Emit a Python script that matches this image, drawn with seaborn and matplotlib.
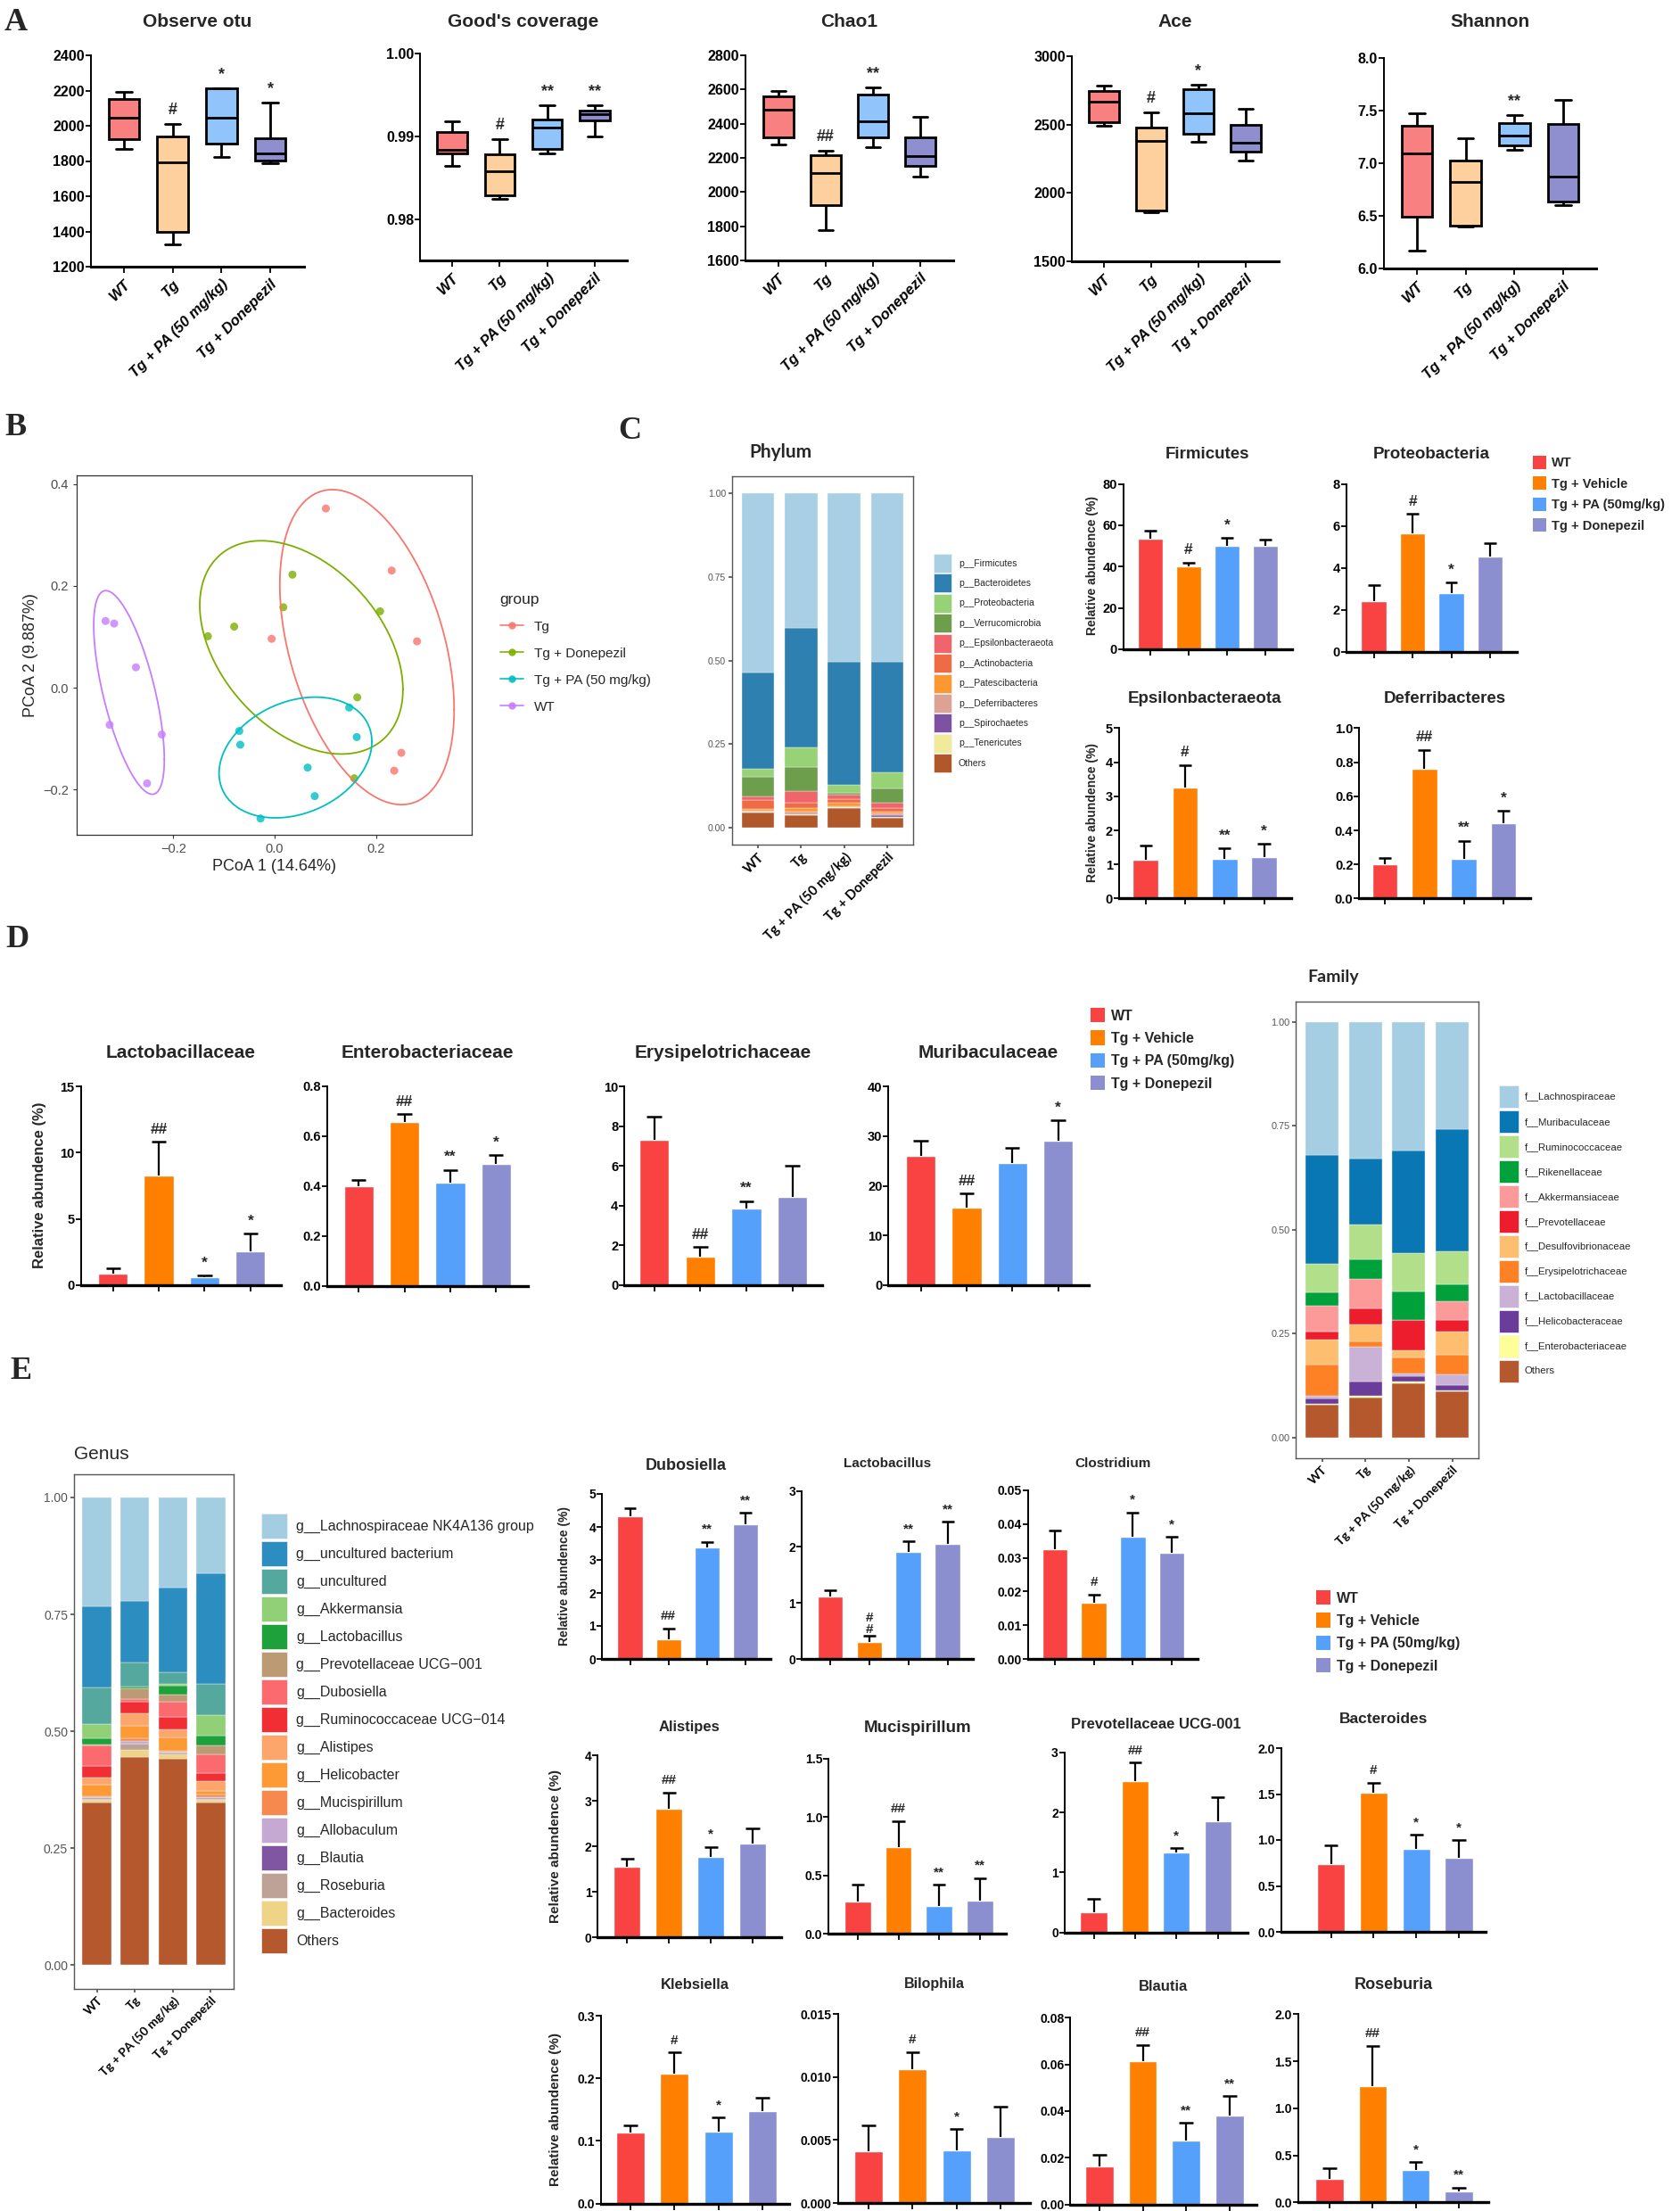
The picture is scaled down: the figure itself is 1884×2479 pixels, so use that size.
import numpy as np
import pandas as pd
import matplotlib
matplotlib.use("Agg")
import matplotlib.pyplot as plt
from matplotlib.lines import Line2D
from matplotlib.patches import Patch
import seaborn as sns

W, H = 1884, 2479

box_groups = ["WT", "Tg", "Tg + PA (50 mg/kg)", "Tg + Donepezil"]
bar_groups = ["WT", "Tg + Vehicle", "Tg + PA (50mg/kg)", "Tg + Donepezil"]
stack_groups = ["WT", "Tg", "Tg + PA (50 mg/kg)", "Tg + Donepezil"]

box_colors = ["#F98080", "#FDD09E", "#90C4FA", "#8F8FD0"]
bar_colors = ["#F94343", "#FF8000", "#55A0FA", "#8B8FD0"]

# ---- A: alpha diversity (min, q1, median, q3, max) ----
observe_otu = [[1870, 1923, 2047, 2153, 2191], [1326, 1397, 1792, 1938, 2009],
               [1821, 1899, 2047, 2213, 2213], [1787, 1803, 1843, 1931, 2133]]
observe_otu_sig = ["", "#", "*", "*"]
goods_coverage = [[0.98646, 0.98797, 0.98833, 0.99048, 0.9918], [0.9824, 0.98287, 0.98581, 0.98779, 0.98966],
                  [0.9879, 0.9885, 0.9911, 0.99199, 0.99372], [0.98995, 0.99192, 0.9927, 0.9931, 0.99372]]
goods_coverage_sig = ["", "#", "**", "**"]
chao1 = [[2280, 2322, 2480, 2558, 2590], [1776, 1925, 2110, 2216, 2242],
         [2264, 2318, 2416, 2570, 2611], [2092, 2153, 2210, 2320, 2440]]
chao1_sig = ["", "##", "**", ""]
ace = [[2493, 2515, 2665, 2744, 2787], [1859, 1870, 2383, 2480, 2589],
       [2372, 2433, 2585, 2759, 2791], [2235, 2302, 2368, 2498, 2613]]
ace_sig = ["", "#", "*", ""]
shannon = [[6.172, 6.494, 7.093, 7.353, 7.472], [6.40, 6.404, 6.822, 7.028, 7.237],
           [7.127, 7.172, 7.265, 7.379, 7.455], [6.602, 6.635, 6.875, 7.373, 7.599]]
shannon_sig = ["", "", "**", ""]

# ---- B: PCoA ----
pcoa_groups = ["Tg", "Tg + Donepezil", "Tg + PA (50 mg/kg)", "WT"]
pcoa_colors = ["#F8766D", "#7CAE00", "#00BFC4", "#C77CFF"]
pcoa_tg_x = [0.101, 0.231, -0.006, 0.281, 0.250, 0.236]
pcoa_tg_y = [0.352, 0.230, 0.096, 0.091, -0.128, -0.163]
pcoa_don_x = [0.035, 0.017, -0.080, -0.132, 0.208, 0.163, 0.157]
pcoa_don_y = [0.222, 0.158, 0.120, 0.101, 0.150, -0.019, -0.178]
pcoa_pa_x = [0.147, 0.162, -0.070, -0.068, 0.065, 0.079, -0.028]
pcoa_pa_y = [-0.039, -0.097, -0.085, -0.112, -0.157, -0.213, -0.257]
pcoa_wt_x = [-0.334, -0.317, -0.274, -0.326, -0.223, -0.252]
pcoa_wt_y = [0.131, 0.126, 0.040, -0.073, -0.092, -0.188]

# ---- C: phylum composition (legend order, per group) ----
phylum_taxa = ["p__Firmicutes", "p__Bacteroidetes", "p__Proteobacteria", "p__Verrucomicrobia",
               "p__Epsilonbacteraeota", "p__Actinobacteria", "p__Patescibacteria", "p__Deferribacteres",
               "p__Spirochaetes", "p__Tenericutes", "Others"]
phylum_colors = ["#A8CFE3", "#2E80B0", "#98D277", "#6C9E4C", "#F0646C", "#EF6B45", "#FD972F",
                 "#DCA294", "#7D52A3", "#F1EA9B", "#B0582A"]
phylum_wt = [0.535, 0.288, 0.024, 0.060, 0.010, 0.027, 0.005, 0.002, 0.001, 0.002, 0.046]
phylum_tg = [0.403, 0.357, 0.058, 0.073, 0.033, 0.017, 0.010, 0.008, 0.001, 0.001, 0.039]
phylum_pa = [0.505, 0.367, 0.023, 0.005, 0.014, 0.012, 0.010, 0.002, 0.001, 0.002, 0.059]
phylum_don = [0.505, 0.330, 0.046, 0.043, 0.016, 0.012, 0.006, 0.004, 0.006, 0.002, 0.030]

firmicutes_mean = [53.3, 39.9, 50.2, 50.2]
firmicutes_sem = [4.0, 2.0, 3.7, 3.0]
firmicutes_sig = ["", "#", "*", ""]
proteobacteria_mean = [2.40, 5.66, 2.78, 4.55]
proteobacteria_sem = [0.79, 0.90, 0.53, 0.64]
proteobacteria_sig = ["", "#", "*", ""]
epsilon_mean = [1.14, 3.27, 1.17, 1.21]
epsilon_sem = [0.42, 0.65, 0.30, 0.40]
epsilon_sig = ["", "#", "**", "*"]
deferribacteres_mean = [0.200, 0.761, 0.234, 0.443]
deferribacteres_sem = [0.037, 0.112, 0.106, 0.071]
deferribacteres_sig = ["", "##", "**", "*"]

# ---- D: family ----
lactobacillaceae_mean = [0.83, 8.25, 0.56, 2.56]
lactobacillaceae_sem = [0.43, 2.59, 0.16, 1.31]
lactobacillaceae_sig = ["", "##", "*", "*"]
enterobacteriaceae_mean = [0.400, 0.657, 0.414, 0.490]
enterobacteriaceae_sem = [0.023, 0.031, 0.051, 0.034]
enterobacteriaceae_sig = ["", "##", "**", "*"]
erysipelotrichaceae_mean = [7.33, 1.41, 3.84, 4.45]
erysipelotrichaceae_sem = [1.16, 0.50, 0.39, 1.55]
erysipelotrichaceae_sig = ["", "##", "**", ""]
muribaculaceae_mean = [25.97, 15.53, 24.5, 29.1]
muribaculaceae_sem = [3.1, 2.9, 3.2, 4.1]
muribaculaceae_sig = ["", "##", "", "*"]

family_taxa = ["f__Lachnospiraceae", "f__Muribaculaceae", "f__Ruminococcaceae", "f__Rikenellaceae",
               "f__Akkermansiaceae", "f__Prevotellaceae", "f__Desulfovibrionaceae", "f__Erysipelotrichaceae",
               "f__Lactobacillaceae", "f__Helicobacteraceae", "f__Enterobacteriaceae", "Others"]
family_colors = ["#A6CEE3", "#0A77B5", "#B2DF8A", "#00A13A", "#FB9A99", "#EE1D2E", "#FDBF6F",
                 "#FF8126", "#CAB2D6", "#6A3D9A", "#FFFF99", "#B5582D"]
family_wt = [0.320, 0.262, 0.069, 0.033, 0.061, 0.019, 0.061, 0.074, 0.008, 0.012, 0.003, 0.078]
family_tg = [0.329, 0.158, 0.085, 0.046, 0.072, 0.037, 0.041, 0.014, 0.083, 0.034, 0.004, 0.097]
family_pa = [0.310, 0.247, 0.091, 0.069, 0.001, 0.073, 0.016, 0.039, 0.007, 0.012, 0.004, 0.131]
family_don = [0.259, 0.293, 0.079, 0.042, 0.044, 0.028, 0.057, 0.046, 0.026, 0.012, 0.004, 0.110]

# ---- E: genus ----
genus_taxa = ["g__Lachnospiraceae NK4A136 group", "g__uncultured bacterium", "g__uncultured",
              "g__Akkermansia", "g__Lactobacillus", "g__Prevotellaceae UCG\u2212001", "g__Dubosiella",
              "g__Ruminococcaceae UCG\u2212014", "g__Alistipes", "g__Helicobacter", "g__Mucispirillum",
              "g__Allobaculum", "g__Blautia", "g__Roseburia", "g__Bacteroides", "Others"]
genus_colors = ["#A3CEE2", "#2C8DC0", "#55A89E", "#92D078", "#1EA03A", "#BC9A74", "#FB6A6E", "#F22E35",
                "#FDA66C", "#FD9A35", "#F6894E", "#C5A9D2", "#8055A2", "#BFA296", "#EFD386", "#B5582D"]
genus_wt = [0.232, 0.174, 0.079, 0.030, 0.013, 0.003, 0.043, 0.025, 0.015, 0.025, 0.002, 0.002, 0.001, 0.003, 0.006, 0.347]
genus_tg = [0.221, 0.132, 0.052, 0.000, 0.004, 0.022, 0.005, 0.025, 0.028, 0.027, 0.004, 0.006, 0.001, 0.013, 0.015, 0.445]
genus_pa = [0.192, 0.182, 0.025, 0.003, 0.020, 0.014, 0.034, 0.026, 0.017, 0.028, 0.002, 0.002, 0.001, 0.003, 0.009, 0.442]
genus_don = [0.163, 0.236, 0.067, 0.043, 0.021, 0.019, 0.040, 0.017, 0.022, 0.007, 0.006, 0.002, 0.001, 0.003, 0.006, 0.347]

dubosiella_mean = [4.32, 0.59, 3.37, 4.07]
dubosiella_sem = [0.26, 0.33, 0.18, 0.36]
dubosiella_sig = ["", "##", "**", "**"]
lactobacillus_mean = [1.12, 0.31, 1.91, 2.05]
lactobacillus_sem = [0.11, 0.10, 0.19, 0.40]
lactobacillus_sig = ["", "#\n#", "**", "**"]
clostridium_mean = [0.0325, 0.0166, 0.0362, 0.0316]
clostridium_sem = [0.0057, 0.0024, 0.0073, 0.0046]
clostridium_sig = ["", "#", "*", "*"]
alistipes_mean = [1.55, 2.83, 1.78, 2.07]
alistipes_sem = [0.18, 0.35, 0.21, 0.32]
alistipes_sig = ["", "##", "*", ""]
mucispirillum_mean = [0.275, 0.742, 0.236, 0.282]
mucispirillum_sem = [0.145, 0.219, 0.184, 0.196]
mucispirillum_sig = ["", "##", "**", "**"]
prevotellaceae_mean = [0.342, 2.52, 1.33, 1.85]
prevotellaceae_sem = [0.218, 0.31, 0.08, 0.40]
prevotellaceae_sig = ["", "##", "*", ""]
bacteroides_mean = [0.738, 1.515, 0.903, 0.803]
bacteroides_sem = [0.201, 0.110, 0.155, 0.197]
bacteroides_sig = ["", "#", "*", "*"]
klebsiella_mean = [0.114, 0.208, 0.115, 0.148]
klebsiella_sem = [0.011, 0.033, 0.022, 0.021]
klebsiella_sig = ["", "#", "*", ""]
bilophila_mean = [0.00409, 0.01065, 0.00416, 0.00527]
bilophila_sem = [0.00205, 0.00135, 0.0017, 0.00237]
bilophila_sig = ["", "#", "*", ""]
blautia_mean = [0.0162, 0.0615, 0.0274, 0.0380]
blautia_sem = [0.0052, 0.0069, 0.0076, 0.0085]
blautia_sig = ["", "##", "**", "**"]
roseburia_mean = [0.246, 1.238, 0.348, 0.120]
roseburia_sem = [0.121, 0.421, 0.079, 0.038]
roseburia_sig = ["", "##", "*", "**"]

SANS = ["Liberation Sans", "DejaVu Sans"]
SERIF = ["Liberation Serif", "DejaVu Serif"]
CALI = ["Lato", "DejaVu Sans"]
YLABEL = "Relative abundence (%)"


def px_axes(fig, left, top, right, bottom):
    return fig.add_axes([left / W, 1 - bottom / H, (right - left) / W, (bottom - top) / H])


def px_text(fig, x, y, s, **kw):
    kw.setdefault("ha", "center")
    kw.setdefault("va", "center")
    fig.text(x / W, 1 - y / H, s, **kw)


def fit_xlim(ax, left, right, first, last, n=4):
    step = (last - first) / (n - 1)
    ax.set_xlim((left - first) / step, (right - first) / step)


def prism_style(ax, ylim, yticks, fmt, size, bottom_lw=2.0):
    ax.set_ylim(*ylim)
    ax.set_yticks(yticks)
    ax.set_yticklabels([fmt.format(v) for v in yticks], fontweight="bold", fontsize=size)
    ax.set_xlabel("")
    ax.set_ylabel("")
    for s in ["top", "right"]:
        ax.spines[s].set_visible(False)
    ax.spines["left"].set_linewidth(1.4)
    ax.spines["bottom"].set_linewidth(bottom_lw)
    ax.tick_params(axis="y", length=4, width=1.3, pad=1)
    ax.tick_params(axis="x", length=5, width=1.3)


def box_panel(fig, rect, ticks, title, data, sig, ylim, yticks, fmt):
    left, top, right, bottom = rect
    ax = px_axes(fig, *rect)
    df = pd.DataFrame({"group": np.repeat(box_groups, 5), "value": np.concatenate(data)})
    sns.boxplot(data=df, x="group", y="value", hue="group", palette=box_colors, saturation=1,
                whis=(0, 100), width=0.63, linewidth=2, linecolor="black", legend=False, ax=ax)
    fit_xlim(ax, left, right, *ticks)
    prism_style(ax, ylim, yticks, fmt, 11.5, bottom_lw=2.2)
    ax.set_xticks(range(4))
    ax.set_xticklabels(box_groups, rotation=45, ha="right", rotation_mode="anchor",
                       fontstyle="italic", fontweight="bold", fontsize=12)
    for i, (s, vals) in enumerate(zip(sig, data)):
        if s:
            ax.annotate(s, (i, max(vals)), xytext=(0, 11), textcoords="offset points",
                        ha="center", va="center", fontsize=13, fontweight="bold")
    px_text(fig, (left + right) / 2, 24, title, fontsize=15, fontweight="bold")


def bar_panel(fig, rect, ticks, title, title_y, title_size, mean, sem, sig, ymax, yticks, fmt,
              tick_size=10.5, sig_size=12.5):
    left, top, right, bottom = rect
    ax = px_axes(fig, *rect)
    sns.barplot(x=bar_groups, y=mean, hue=bar_groups, palette=bar_colors, saturation=1,
                width=0.65, legend=False, ax=ax)
    x = np.arange(4)
    m = np.array(mean)
    e = np.array(sem)
    ax.vlines(x, m, m + e, color="black", lw=1.6, zorder=3)
    ax.hlines(m + e, x - 0.16, x + 0.16, color="black", lw=1.8, zorder=3)
    for i, s in enumerate(sig):
        if s:
            ax.annotate(s, (i, m[i] + e[i]), xytext=(0, 10), textcoords="offset points",
                        ha="center", va="center", fontsize=sig_size, fontweight="bold",
                        linespacing=0.9, annotation_clip=False)
    fit_xlim(ax, left, right, *ticks)
    prism_style(ax, (0, ymax), yticks, fmt, tick_size, bottom_lw=2.4)
    ax.set_xticks(range(4))
    ax.set_xticklabels([])
    px_text(fig, (left + right) / 2, title_y, title, fontsize=title_size, fontweight="bold")
    return ax


def bar_legend(fig, x, y, size):
    handles = [Patch(facecolor=c, edgecolor="none") for c in bar_colors]
    fig.legend(handles, bar_groups, loc="upper left", bbox_to_anchor=(x / W, 1 - y / H),
               frameon=False, prop={"weight": "bold", "size": size},
               handlelength=1.0, handleheight=1.2, labelspacing=0.55, handletextpad=0.45,
               borderpad=0, borderaxespad=0)


def stacked_panel(fig, rect, values, taxa, colors, tick_size, ytick_size, leg_xy, leg_size, leg_kw):
    ax = px_axes(fig, *rect)
    table = pd.DataFrame(values, index=stack_groups, columns=taxa)
    bottom = np.zeros(len(stack_groups))
    for taxon, color in list(zip(taxa, colors))[::-1]:
        ax.bar(range(4), table[taxon].to_numpy(), bottom=bottom, width=0.76, color=color,
               edgecolor="#F2F2F2", linewidth=0.3)
        bottom += table[taxon].to_numpy()
    ax.set_xlim(-0.6, 3.6)
    ax.set_ylim(-0.05, 1.05)
    ax.set_yticks([0, 0.25, 0.5, 0.75, 1.0])
    ax.set_yticklabels(["0.00", "0.25", "0.50", "0.75", "1.00"], fontsize=ytick_size, color="#555555")
    ax.set_xticks(range(4))
    ax.set_xticklabels(stack_groups, rotation=45, ha="right", rotation_mode="anchor",
                       fontsize=tick_size, fontweight="bold", family=CALI)
    for s in ax.spines.values():
        s.set_color("#555555")
        s.set_linewidth(1.0)
    ax.tick_params(length=3, color="#555555", pad=2)
    handles = [Patch(facecolor=c, edgecolor="#F2F2F2", linewidth=0.5) for c in colors]
    fig.legend(handles, taxa, loc="upper left", bbox_to_anchor=(leg_xy[0] / W, 1 - leg_xy[1] / H),
               frameon=False, fontsize=leg_size, borderpad=0, borderaxespad=0, **leg_kw)
    return ax


def ellipse(x, y, r=1.55, n=200):
    pts = np.column_stack([x, y])
    center = pts.mean(axis=0)
    chol = np.linalg.cholesky(np.cov(pts.T))
    t = np.linspace(0, 2 * np.pi, n)
    circle = np.column_stack([np.cos(t), np.sin(t)])
    return center + r * circle @ chol.T


def main():
    sns.set_theme(style="ticks")
    plt.rcParams["font.family"] = SANS
    plt.rcParams["axes.edgecolor"] = "black"
    plt.rcParams["xtick.color"] = "black"
    plt.rcParams["ytick.color"] = "black"
    fig = plt.figure(figsize=(W / 100, H / 100), dpi=100)

    # ---------------- A ----------------
    box_panel(fig, (102, 62, 341, 299), (139, 303), "Observe otu", observe_otu, observe_otu_sig,
              (1200, 2400), list(range(1200, 2401, 200)), "{:.0f}")
    box_panel(fig, (471, 60, 703, 292), (507, 667), "Good's coverage", goods_coverage, goods_coverage_sig,
              (0.975, 1.0), [0.98, 0.99, 1.00], "{:.2f}")
    box_panel(fig, (836, 62, 1069, 292), (873, 1032), "Chao1", chao1, chao1_sig,
              (1600, 2800), list(range(1600, 2801, 200)), "{:.0f}")
    box_panel(fig, (1202, 63, 1434, 293), (1238, 1397), "Ace", ace, ace_sig,
              (1500, 3000), [1500, 2000, 2500, 3000], "{:.0f}")
    box_panel(fig, (1552, 65, 1790, 301), (1589, 1753), "Shannon", shannon, shannon_sig,
              (6.0, 8.0), [6.0, 6.5, 7.0, 7.5, 8.0], "{:.1f}")

    # ---------------- B ----------------
    ax = px_axes(fig, 86, 533, 529, 936)
    xs = [pcoa_tg_x, pcoa_don_x, pcoa_pa_x, pcoa_wt_x]
    ys = [pcoa_tg_y, pcoa_don_y, pcoa_pa_y, pcoa_wt_y]
    pcoa = pd.DataFrame({
        "x": np.concatenate(xs), "y": np.concatenate(ys),
        "group": np.concatenate([[g] * len(v) for g, v in zip(pcoa_groups, xs)]),
    })
    sns.scatterplot(data=pcoa, x="x", y="y", hue="group", hue_order=pcoa_groups, palette=pcoa_colors,
                    s=42, alpha=0.8, linewidth=0, legend=False, ax=ax)
    for gx, gy, c in zip(xs, ys, pcoa_colors):
        e = ellipse(gx, gy)
        ax.plot(e[:, 0], e[:, 1], color=c, lw=1.3)
    ax.set_xlim(-0.391, 0.389)
    ax.set_ylim(-0.289, 0.417)
    ax.set_xticks([-0.2, 0.0, 0.2])
    ax.set_xticklabels(["\u22120.2", "0.0", "0.2"])
    ax.set_yticks([-0.2, 0.0, 0.2, 0.4])
    ax.set_yticklabels(["\u22120.2", "0.0", "0.2", "0.4"])
    ax.tick_params(labelsize=10.5, labelcolor="#4D4D4D", color="#333333", length=3, width=0.8)
    for s in ax.spines.values():
        s.set_color("#333333")
        s.set_linewidth(0.9)
    ax.set_xlabel("PCoA 1 (14.64%)", fontsize=13, labelpad=3)
    ax.set_ylabel("PCoA 2 (9.887%)", fontsize=13, labelpad=4)
    handles = [Line2D([0], [0], color=c, lw=1.3, marker="o", markersize=6, markeredgewidth=0, alpha=0.9)
               for c in pcoa_colors]
    ax.legend(handles, pcoa_groups, title="group", loc="upper left",
              bbox_to_anchor=(553 / W, 1 - 657 / H), bbox_transform=fig.transFigure,
              frameon=False, fontsize=11, title_fontsize=12.5, handlelength=1.7,
              labelspacing=1.05, handletextpad=0.8, borderpad=0, alignment="left")

    # ---------------- C ----------------
    stacked_panel(fig, (821, 534, 1024, 947), [phylum_wt, phylum_tg, phylum_pa, phylum_don],
                  phylum_taxa, phylum_colors, 11, 7.5, (1047, 621), 7.5,
                  dict(handlelength=1.92, handleheight=2.72, labelspacing=0.14, handletextpad=0.75))
    px_text(fig, 875, 507, "Phylum", fontsize=15, fontweight="bold", family=CALI)

    bar_panel(fig, (1260, 542.5, 1448.5, 727.9), (1290, 1419), "Firmicutes", 510, 13.5,
              firmicutes_mean, firmicutes_sem, firmicutes_sig, 80, [0, 20, 40, 60, 80], "{:.0f}")
    bar_panel(fig, (1510, 542.5, 1701, 730.7), (1540.6, 1671), "Proteobacteria", 510, 13.5,
              proteobacteria_mean, proteobacteria_sem, proteobacteria_sig, 8, [0, 2, 4, 6, 8], "{:.0f}")
    bar_panel(fig, (1255, 816.4, 1448, 1007.5), (1284.6, 1417.5), "Epsilonbacteraeota", 784, 13.5,
              epsilon_mean, epsilon_sem, epsilon_sig, 5, [0, 1, 2, 3, 4, 5], "{:.0f}")
    bar_panel(fig, (1524.4, 816.4, 1715.7, 1007.5), (1553, 1686), "Deferribacteres", 784, 13.5,
              deferribacteres_mean, deferribacteres_sem, deferribacteres_sig, 1.0,
              [0, 0.2, 0.4, 0.6, 0.8, 1.0], "{:.1f}")
    px_text(fig, 1225, 634, YLABEL, rotation=90, fontsize=10, fontweight="bold")
    px_text(fig, 1225, 911, YLABEL, rotation=90, fontsize=10, fontweight="bold")
    bar_legend(fig, 1719, 511, 10.5)

    # ---------------- D ----------------
    bar_panel(fig, (90.6, 1218.3, 315, 1440.7), (126.8, 280.8), "Lactobacillaceae", 1181, 15,
              lactobacillaceae_mean, lactobacillaceae_sem, lactobacillaceae_sig, 15, [0, 5, 10, 15], "{:.0f}")
    bar_panel(fig, (366.8, 1217.7, 591.5, 1441.7), (402.2, 556.2), "Enterobacteriaceae", 1181, 15,
              enterobacteriaceae_mean, enterobacteriaceae_sem, enterobacteriaceae_sig, 0.8,
              [0, 0.2, 0.4, 0.6, 0.8], "{:.1f}")
    bar_panel(fig, (700.2, 1218.3, 922, 1440.7), (733.7, 888.6), "Erysipelotrichaceae", 1181, 15,
              erysipelotrichaceae_mean, erysipelotrichaceae_sem, erysipelotrichaceae_sig, 10,
              [0, 2, 4, 6, 8, 10], "{:.0f}")
    bar_panel(fig, (996.4, 1218.3, 1221, 1440.7), (1032.6, 1186.6), "Muribaculaceae", 1181, 15,
              muribaculaceae_mean, muribaculaceae_sem, muribaculaceae_sig, 40, [0, 10, 20, 30, 40], "{:.0f}")
    px_text(fig, 45, 1329, YLABEL, rotation=90, fontsize=12, fontweight="bold")
    bar_legend(fig, 1223, 1130, 11.5)

    stacked_panel(fig, (1453.3, 1122.5, 1657.7, 1635), [family_wt, family_tg, family_pa, family_don],
                  family_taxa, family_colors, 10, 7.8, (1681, 1217), 8.2,
                  dict(handlelength=1.9, handleheight=3.0, labelspacing=0.26, handletextpad=0.6))
    px_text(fig, 1495, 1095, "Family", fontsize=14, fontweight="bold", family=CALI)

    # ---------------- E ----------------
    stacked_panel(fig, (83, 1652.7, 262, 2229.5), [genus_wt, genus_tg, genus_pa, genus_don],
                  genus_taxa, genus_colors, 10, 10, (293, 1697), 11.5,
                  dict(handlelength=1.8, handleheight=2.3, labelspacing=0.2, handletextpad=0.65))
    px_text(fig, 83, 1630, "Genus", fontsize=15, ha="left")

    bar_panel(fig, (675.3, 1675, 863.7, 1860), (706.5, 835.9), "Dubosiella", 1644, 13,
              dubosiella_mean, dubosiella_sem, dubosiella_sig, 5, [0, 1, 2, 3, 4, 5], "{:.0f}", 10, 11)
    bar_panel(fig, (899, 1671.7, 1091.4, 1860), (930.9, 1062.7), "Lactobacillus", 1641, 11,
              lactobacillus_mean, lactobacillus_sem, lactobacillus_sig, 3, [0, 1, 2, 3], "{:.0f}", 10, 11)
    bar_panel(fig, (1152.8, 1671, 1342.8, 1860), (1183, 1314), "Clostridium", 1641, 11,
              clostridium_mean, clostridium_sem, clostridium_sig, 0.05,
              [0, 0.01, 0.02, 0.03, 0.04, 0.05], "{:.2f}", 10, 11)
    bar_panel(fig, (670.4, 1968.3, 876, 2172.3), (703.2, 844), "Alistipes", 1936, 12,
              alistipes_mean, alistipes_sem, alistipes_sig, 4, [0, 1, 2, 3, 4], "{:.0f}", 10, 11)
    bar_panel(fig, (929.2, 1971.7, 1128, 2168.3), (962, 1098.8), "Mucispirillum", 1938, 13.5,
              mucispirillum_mean, mucispirillum_sem, mucispirillum_sig, 1.5,
              [0, 0.5, 1.0, 1.5], "{:.1f}", 10, 11)
    bar_panel(fig, (1193.8, 1965, 1398.5, 2166.7), (1226.5, 1365.8), "Prevotellaceae UCG-001", 1933, 12,
              prevotellaceae_mean, prevotellaceae_sem, prevotellaceae_sig, 3, [0, 1, 2, 3], "{:.0f}", 10, 11)
    bar_panel(fig, (1437, 1960, 1666.4, 2166), (1492.7, 1636), "Bacteroides", 1927, 12.5,
              bacteroides_mean, bacteroides_sem, bacteroides_sig, 2.0,
              [0, 0.5, 1.0, 1.5, 2.0], "{:.1f}", 10, 11)
    bar_panel(fig, (673.7, 2260, 885, 2470.7), (707.3, 854.7), "Klebsiella", 2226, 12,
              klebsiella_mean, klebsiella_sem, klebsiella_sig, 0.3, [0, 0.1, 0.2, 0.3], "{:.1f}", 10, 11)
    bar_panel(fig, (939.9, 2258.3, 1155.3, 2470), (974.3, 1121.7), "Bilophila", 2225, 11.5,
              bilophila_mean, bilophila_sem, bilophila_sig, 0.015,
              [0, 0.005, 0.010, 0.015], "{:.3f}", 10, 11)
    bar_panel(fig, (1200.3, 2262.3, 1409, 2471.7), (1233, 1378.9), "Blautia", 2228, 12,
              blautia_mean, blautia_sem, blautia_sig, 0.08,
              [0, 0.02, 0.04, 0.06, 0.08], "{:.2f}", 10, 11)
    bar_panel(fig, (1455.9, 2258.3, 1668.8, 2469.3), (1491, 1636), "Roseburia", 2225, 13,
              roseburia_mean, roseburia_sem, roseburia_sig, 2.0,
              [0, 0.5, 1.0, 1.5, 2.0], "{:.1f}", 10, 11)
    px_text(fig, 633, 1767, YLABEL, rotation=90, fontsize=10, fontweight="bold")
    px_text(fig, 623, 2070, YLABEL, rotation=90, fontsize=11, fontweight="bold")
    px_text(fig, 623, 2365, YLABEL, rotation=90, fontsize=11, fontweight="bold")
    bar_legend(fig, 1476, 1783, 11.5)

    # panel letters
    for letter, (x, y) in zip("ABCDE", [(18, 26), (17, 480), (706, 484), (19, 1053), (24, 1538)]):
        px_text(fig, x, y, letter, fontsize=26, fontweight="bold", family=SERIF)

    fig.savefig("out.png", dpi=100)
    plt.close(fig)


if __name__ == "__main__":
    main()
